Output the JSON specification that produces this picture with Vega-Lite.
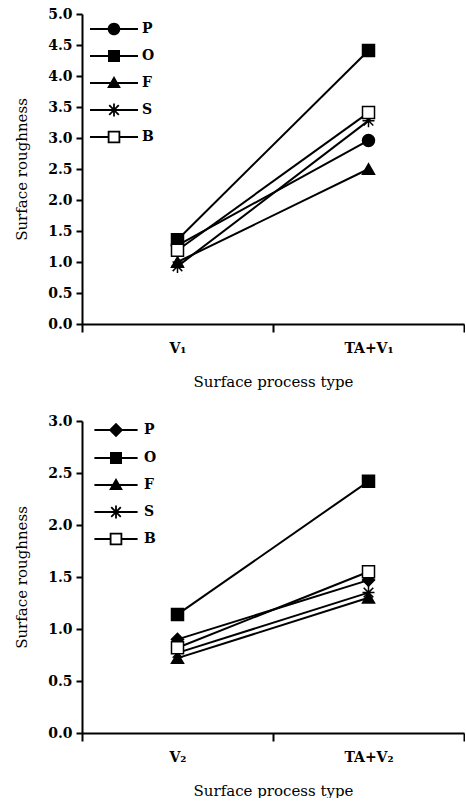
{
  "$schema": "https://vega.github.io/schema/vega-lite/v6.json",
  "background": "white",
  "padding": {"top": 7, "left": 14, "right": 0, "bottom": 0},
  "datasets": {
    "top": [
      {"type": "V₁", "series": "P", "value": 1.27},
      {"type": "V₁", "series": "O", "value": 1.36},
      {"type": "V₁", "series": "F", "value": 1.0},
      {"type": "V₁", "series": "S", "value": 0.93},
      {"type": "V₁", "series": "B", "value": 1.19},
      {"type": "TA+V₁", "series": "P", "value": 2.96},
      {"type": "TA+V₁", "series": "O", "value": 4.41},
      {"type": "TA+V₁", "series": "F", "value": 2.5},
      {"type": "TA+V₁", "series": "S", "value": 3.28},
      {"type": "TA+V₁", "series": "B", "value": 3.41}
    ],
    "bottom": [
      {"type": "V₂", "series": "P", "value": 0.9},
      {"type": "V₂", "series": "O", "value": 1.14},
      {"type": "V₂", "series": "F", "value": 0.72},
      {"type": "V₂", "series": "S", "value": 0.77},
      {"type": "V₂", "series": "B", "value": 0.82},
      {"type": "TA+V₂", "series": "P", "value": 1.47},
      {"type": "TA+V₂", "series": "O", "value": 2.42},
      {"type": "TA+V₂", "series": "F", "value": 1.3},
      {"type": "TA+V₂", "series": "S", "value": 1.35},
      {"type": "TA+V₂", "series": "B", "value": 1.55}
    ]
  },
  "spacing": 25,
  "resolve": {"scale": {"x": "independent", "y": "independent", "shape": "independent"}, "legend": {"shape": "independent"}},
  "vconcat": [
    {
      "width": 382,
      "height": 310,
      "data": {"name": "top"},
      "resolve": {"scale": {"shape": "independent"}, "legend": {"shape": "independent"}},
      "encoding": {
        "x": {"field": "type", "type": "nominal", "sort": ["V₁", "TA+V₁"],
          "scale": {"type": "band", "paddingInner": 0, "paddingOuter": 0},
          "axis": {"title": "Surface process type"}},
        "y": {"field": "value", "type": "quantitative",
          "scale": {"domain": [0, 5], "nice": false},
          "axis": {"title": "Surface roughness", "values": [0, 0.5, 1, 1.5, 2, 2.5, 3, 3.5, 4, 4.5, 5], "format": ".1f"}}
      },
      "layer": [
        {
          "mark": {"type": "line", "color": "black", "strokeWidth": 2},
          "encoding": {"detail": {"field": "series", "type": "nominal"}}
        },
        {
          "mark": {"type": "point", "filled": true, "stroke": "black", "strokeWidth": 1.5, "opacity": 1, "size": 144},
          "encoding": {
            "fill": {"condition": {"test": "datum.series === 'B'", "value": "white"}, "value": "black"},
            "shape": {"field": "series", "type": "nominal",
              "scale": {"domain": ["P", "O", "F", "S", "B"],
                "range": ["circle", "square", "triangle-up", "M-1,0H1M0,-1.1V1.1M-0.8,-0.8L0.8,0.8M-0.8,0.8L0.8,-0.8", "square"]},
              "legend": null}
          }
        },
        {
          "mark": {"type": "point", "filled": true, "color": "black", "opacity": 0, "size": 144},
          "encoding": {
            "shape": {"field": "series", "type": "nominal",
              "scale": {"domain": ["P", "O", "F", "S", "B"],
                "range": [
                  "M-4,-0.17H4V0.17H-4ZM-1.05,0A1.05,1.05,0,1,1,1.05,0A1.05,1.05,0,1,1,-1.05,0Z",
                  "M-4,-0.17H4V0.17H-4ZM-1,-1H1V1H-1Z",
                  "M-4,-0.17H4V0.17H-4ZM0,-1.15L1.15,0.85H-1.15Z",
                  "M-4,-0.17H4V0.17H-4ZM-0.15,-1.1H0.15V1.1H-0.15ZM-0.69,-0.91L0.91,0.69L0.69,0.91L-0.91,-0.69ZM-0.91,0.69L0.69,-0.91L0.91,-0.69L-0.69,0.91Z",
                  "M-4,-0.17H-1.05V0.17H-4ZM1.05,-0.17H4V0.17H1.05ZM-1.05,-1.05H1.05V1.05H-1.05ZM-0.75,-0.75V0.75H0.75V-0.75Z"
                ]},
              "legend": {
                "title": null, "orient": "none", "legendX": 25, "legendY": 8, "padding": 0,
                "symbolSize": 144, "labelOffset": 21, "rowPadding": 13,
                "labelFont": "DejaVu Serif", "labelFontWeight": "bold", "labelFontSize": 14, "labelColor": "black",
                "symbolStrokeWidth": 0, "symbolFillColor": "black", "symbolOpacity": 1
              }}
          }
        }
      ]
    },
    {
      "width": 382,
      "height": 312,
      "data": {"name": "bottom"},
      "resolve": {"scale": {"shape": "independent"}, "legend": {"shape": "independent"}},
      "encoding": {
        "x": {"field": "type", "type": "nominal", "sort": ["V₂", "TA+V₂"],
          "scale": {"type": "band", "paddingInner": 0, "paddingOuter": 0},
          "axis": {"title": "Surface process type"}},
        "y": {"field": "value", "type": "quantitative",
          "scale": {"domain": [0, 3], "nice": false},
          "axis": {"title": "Surface roughness", "values": [0, 0.5, 1, 1.5, 2, 2.5, 3], "format": ".1f"}}
      },
      "layer": [
        {
          "mark": {"type": "line", "color": "black", "strokeWidth": 2},
          "encoding": {"detail": {"field": "series", "type": "nominal"}}
        },
        {
          "mark": {"type": "point", "filled": true, "stroke": "black", "strokeWidth": 1.5, "opacity": 1, "size": 144},
          "encoding": {
            "fill": {"condition": {"test": "datum.series === 'B'", "value": "white"}, "value": "black"},
            "shape": {"field": "series", "type": "nominal",
              "scale": {"domain": ["P", "O", "F", "S", "B"],
                "range": ["diamond", "square", "triangle-up", "M-1,0H1M0,-1.1V1.1M-0.8,-0.8L0.8,0.8M-0.8,0.8L0.8,-0.8", "square"]},
              "legend": null}
          }
        },
        {
          "mark": {"type": "point", "filled": true, "color": "black", "opacity": 0, "size": 144},
          "encoding": {
            "shape": {"field": "series", "type": "nominal",
              "scale": {"domain": ["P", "O", "F", "S", "B"],
                "range": [
                  "M-3.6,-0.17H3.6V0.17H-3.6ZM0,-1.2L1.2,0L0,1.2L-1.2,0Z",
                  "M-3.6,-0.17H3.6V0.17H-3.6ZM-1,-1H1V1H-1Z",
                  "M-3.6,-0.17H3.6V0.17H-3.6ZM0,-1.15L1.15,0.85H-1.15Z",
                  "M-3.6,-0.17H3.6V0.17H-3.6ZM-0.15,-1.1H0.15V1.1H-0.15ZM-0.69,-0.91L0.91,0.69L0.69,0.91L-0.91,-0.69ZM-0.91,0.69L0.69,-0.91L0.91,-0.69L-0.69,0.91Z",
                  "M-3.6,-0.17H-1.05V0.17H-3.6ZM1.05,-0.17H3.6V0.17H1.05ZM-1.05,-1.05H1.05V1.05H-1.05ZM-0.75,-0.75V0.75H0.75V-0.75Z"
                ]},
              "legend": {
                "title": null, "orient": "none", "legendX": 27, "legendY": 2, "padding": 0,
                "symbolSize": 144, "labelOffset": 21, "rowPadding": 13,
                "labelFont": "DejaVu Serif", "labelFontWeight": "bold", "labelFontSize": 14, "labelColor": "black",
                "symbolStrokeWidth": 0, "symbolFillColor": "black", "symbolOpacity": 1
              }}
          }
        }
      ]
    }
  ],
  "config": {
    "view": {"stroke": null},
    "axis": {
      "grid": false,
      "domainColor": "black", "domainWidth": 2,
      "tickColor": "black", "tickWidth": 2,
      "labelColor": "black", "labelFont": "DejaVu Serif", "labelFontWeight": "bold", "labelFontSize": 14,
      "titleColor": "black", "titleFont": "DejaVu Serif", "titleFontWeight": "normal", "titleFontSize": 15
    },
    "axisX": {"tickBand": "extent", "tickSize": 8, "labelAngle": 0, "labelPadding": 9, "titlePadding": 19},
    "axisY": {"tickSize": 6, "labelPadding": 4, "titlePadding": 18}
  }
}
